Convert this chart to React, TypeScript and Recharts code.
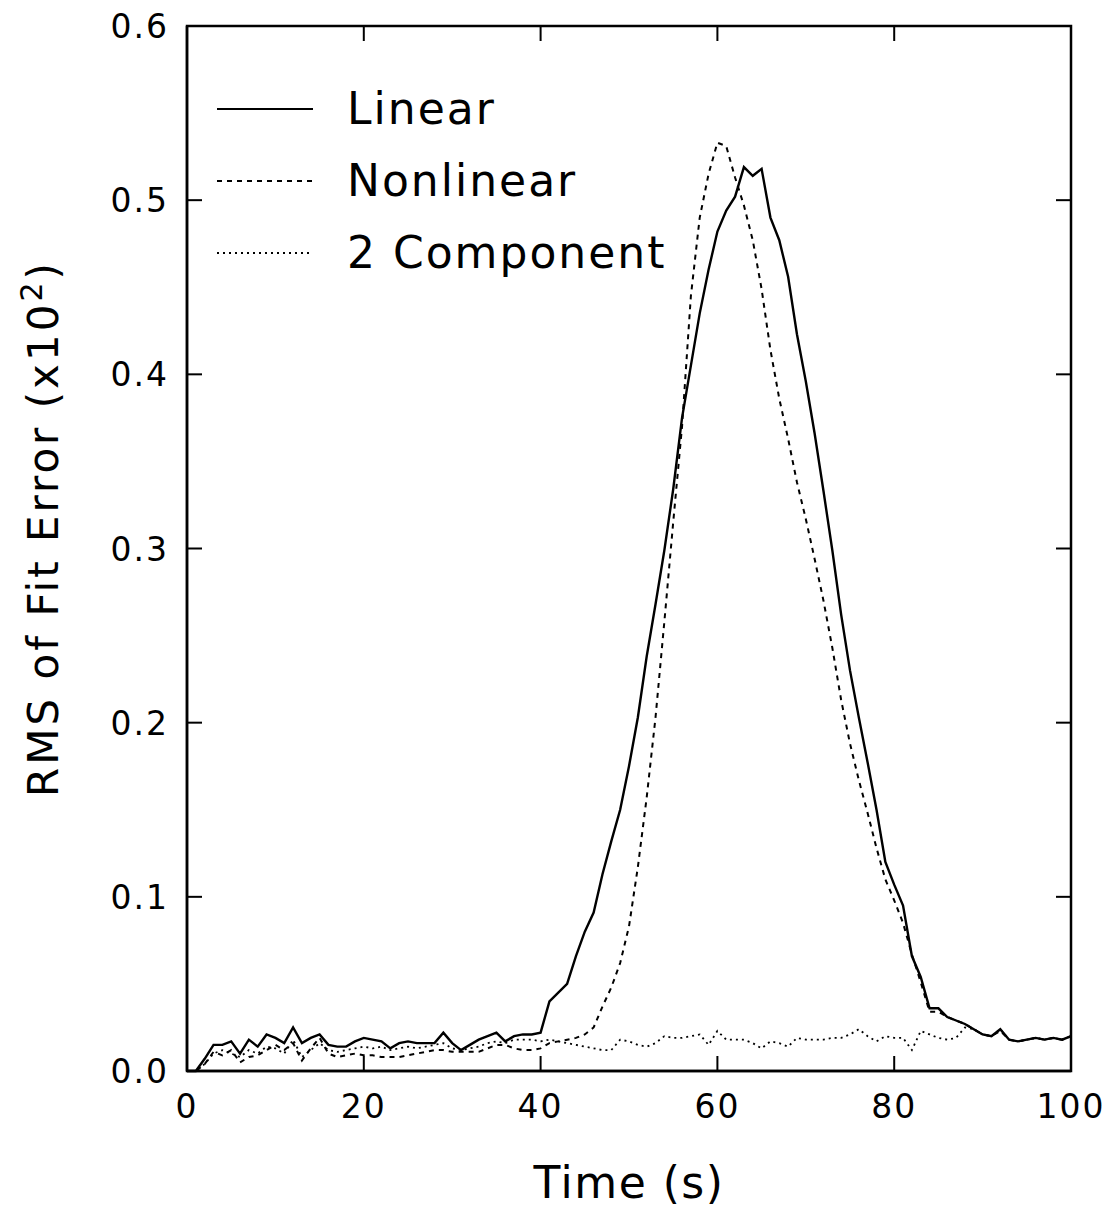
import React from "react";
import { LineChart, Line, XAxis, YAxis, Legend, ReferenceArea } from "recharts";

const time = [
  0, 1, 2, 3, 4, 5, 6, 7, 8, 9,
  10, 11, 12, 13, 14, 15, 16, 17, 18, 19,
  20, 21, 22, 23, 24, 25, 26, 27, 28, 29,
  30, 31, 32, 33, 34, 35, 36, 37, 38, 39,
  40, 41, 42, 43, 44, 45, 46, 47, 48, 49,
  50, 51, 52, 53, 54, 55, 56, 57, 58, 59,
  60, 61, 62, 63, 64, 65, 66, 67, 68, 69,
  70, 71, 72, 73, 74, 75, 76, 77, 78, 79,
  80, 81, 82, 83, 84, 85, 86, 87, 88, 89,
  90, 91, 92, 93, 94, 95, 96, 97, 98, 99,
  100,
];

const linearErr = [
  0, 0, 0.007, 0.015, 0.015, 0.017, 0.010, 0.018, 0.014, 0.021,
  0.019, 0.016, 0.025, 0.016, 0.019, 0.021, 0.015, 0.014, 0.014, 0.017,
  0.019, 0.018, 0.017, 0.013, 0.016, 0.017, 0.016, 0.016, 0.016, 0.022,
  0.016, 0.012, 0.015, 0.018, 0.020, 0.022, 0.017, 0.020, 0.021, 0.021,
  0.022, 0.040, 0.045, 0.050, 0.066, 0.080, 0.091, 0.113, 0.132, 0.150,
  0.175, 0.203, 0.238, 0.268, 0.299, 0.334, 0.375, 0.405, 0.435, 0.460,
  0.482, 0.494, 0.502, 0.519, 0.514, 0.518, 0.490, 0.477, 0.456, 0.423,
  0.396, 0.366, 0.333, 0.299, 0.262, 0.230, 0.203, 0.177, 0.150, 0.120,
  0.107, 0.095, 0.066, 0.054, 0.036, 0.036, 0.031, 0.029, 0.027, 0.024,
  0.021, 0.020, 0.024, 0.018, 0.017, 0.018, 0.019, 0.018, 0.019, 0.018,
  0.020,
];

const nonlinearErr = [
  0, 0, 0.004, 0.011, 0.009, 0.012, 0.005, 0.008, 0.009, 0.012,
  0.015, 0.012, 0.016, 0.006, 0.013, 0.019, 0.010, 0.008, 0.009, 0.010,
  0.009, 0.009, 0.008, 0.008, 0.008, 0.009, 0.010, 0.011, 0.012, 0.012,
  0.011, 0.011, 0.011, 0.011, 0.013, 0.015, 0.015, 0.013, 0.012, 0.012,
  0.013, 0.016, 0.017, 0.018, 0.019, 0.021, 0.025, 0.037, 0.048, 0.062,
  0.083, 0.117, 0.157, 0.203, 0.258, 0.315, 0.370, 0.445, 0.490, 0.515,
  0.533, 0.531, 0.513, 0.497, 0.477, 0.449, 0.414, 0.386, 0.363, 0.338,
  0.317, 0.294, 0.270, 0.243, 0.213, 0.188, 0.167, 0.148, 0.128, 0.110,
  0.098, 0.085, 0.067, 0.051, 0.034, 0.034, 0.031, 0.029, 0.027, 0.024,
  0.021, 0.020, 0.023, 0.018, 0.017, 0.018, 0.019, 0.018, 0.019, 0.018,
  0.020,
];

const twoCompErr = [
  0, 0, 0.004, 0.010, 0.012, 0.010, 0.008, 0.012, 0.010, 0.014,
  0.013, 0.010, 0.018, 0.008, 0.012, 0.016, 0.012, 0.011, 0.012, 0.013,
  0.014, 0.013, 0.014, 0.012, 0.013, 0.014, 0.013, 0.014, 0.015, 0.016,
  0.013, 0.012, 0.013, 0.014, 0.016, 0.017, 0.016, 0.018, 0.018, 0.018,
  0.017, 0.018, 0.017, 0.016, 0.015, 0.014, 0.013, 0.012, 0.012, 0.018,
  0.017, 0.015, 0.014, 0.016, 0.020, 0.019, 0.019, 0.020, 0.021, 0.015,
  0.023, 0.018, 0.018, 0.018, 0.016, 0.013, 0.017, 0.016, 0.014, 0.019,
  0.018, 0.018, 0.018, 0.019, 0.019, 0.021, 0.024, 0.020, 0.017, 0.020,
  0.019, 0.019, 0.012, 0.023, 0.021, 0.019, 0.018, 0.019, 0.025, 0.024,
  0.021, 0.020, 0.024, 0.018, 0.017, 0.018, 0.019, 0.018, 0.019, 0.018,
  0.020,
];

const xTicks = [0, 20, 40, 60, 80, 100];
const yTicks = [0, 0.1, 0.2, 0.3, 0.4, 0.5, 0.6];
const seriesNames = ["Linear", "Nonlinear", "2 Component"];

const data = time.map((t, i) => ({
  t,
  linear: linearErr[i],
  nonlinear: nonlinearErr[i],
  twoComp: twoCompErr[i],
}));

const FONT = "'DejaVu Sans', sans-serif";
const dashes = ["", "5 5", "2 4"];
const widths = [2.4, 2, 1.8];

const W = 1111;
const H = 1203;
const MARGIN = { top: 18, right: 48, left: 0, bottom: 0 };
const PLOT_TOP = MARGIN.top;
const PLOT_RIGHT = W - MARGIN.right;
const TICK = 15;

// inward ticks on both opposite sides, label outside
const XTick = (props: any) => {
  const { x, y, payload } = props;
  const edge = payload.value === 0 || payload.value === 100;
  return (
    <g>
      {!edge && <line x1={x} x2={x} y1={y} y2={y - TICK} stroke="#000" strokeWidth={2} />}
      {!edge && <line x1={x} x2={x} y1={PLOT_TOP} y2={PLOT_TOP + TICK} stroke="#000" strokeWidth={2} />}
      <text x={x} y={y + 47} textAnchor="middle" fontFamily={FONT} fontSize={33} letterSpacing={2} fill="#000">
        {payload.value}
      </text>
    </g>
  );
};

const YTick = (props: any) => {
  const { x, y, payload } = props;
  const edge = payload.value === 0 || payload.value === 0.6;
  return (
    <g>
      {!edge && <line x1={x} x2={x + TICK} y1={y} y2={y} stroke="#000" strokeWidth={2} />}
      {!edge && <line x1={PLOT_RIGHT} x2={PLOT_RIGHT - TICK} y1={y} y2={y} stroke="#000" strokeWidth={2} />}
      <text x={x - 18} y={y + 12} textAnchor="end" fontFamily={FONT} fontSize={33} letterSpacing={2} fill="#000">
        {payload.value.toFixed(1)}
      </text>
    </g>
  );
};

const LegendBox = () => (
  <div style={{ fontFamily: FONT, fontSize: 44, letterSpacing: 2, color: "#000" }}>
    {seriesNames.map((name, i) => (
      <div key={name} style={{ display: "flex", alignItems: "center", height: 72 }}>
        <svg width={96} height={72} style={{ marginRight: 34 }}>
          <line x1={0} x2={96} y1={36} y2={36} stroke="#000" strokeWidth={2} strokeDasharray={dashes[i]} />
        </svg>
        <span style={{ lineHeight: "72px" }}>{name}</span>
      </div>
    ))}
  </div>
);

const XTitle = (props: any) => {
  const { x, y, width } = props.viewBox;
  return (
    <text x={x + width / 2} y={y + 127} textAnchor="middle" fontFamily={FONT} fontSize={44} letterSpacing={1.5} fill="#000">
      Time (s)
    </text>
  );
};

const YTitle = (props: any) => {
  const { y, height } = props.viewBox;
  const cx = 50;
  const cy = y + height / 2 - 20;
  return (
    <text transform={`translate(${cx},${cy}) rotate(-90)`} textAnchor="middle" fontFamily={FONT} fontSize={42} letterSpacing={3} fill="#000">
      RMS of Fit Error (x10
      <tspan dy={-16} fontSize={30}>2</tspan>
      <tspan dy={16}>)</tspan>
    </text>
  );
};

export default function RmsFitErrorChart() {
  return (
    <div style={{ background: "#fff", width: W, height: H }}>
      <LineChart width={W} height={H} data={data} margin={MARGIN}>
        <XAxis
          dataKey="t"
          type="number"
          domain={[0, 100]}
          ticks={xTicks}
          height={140}
          tickSize={0}
          tickMargin={0}
          tick={XTick}
          tickLine={false}
          axisLine={{ stroke: "#000", strokeWidth: 2.5 }}
          label={{ content: XTitle }}
        />
        <YAxis
          type="number"
          domain={[0, 0.6]}
          ticks={yTicks}
          width={179}
          tickSize={0}
          tickMargin={0}
          tick={YTick}
          tickLine={false}
          axisLine={{ stroke: "#000", strokeWidth: 2.5 }}
          label={{ content: YTitle }}
        />
        <ReferenceArea x1={0} x2={100} y1={0} y2={0.6} fill="none" stroke="#000" strokeWidth={2.5} />
        <Legend
          layout="horizontal"
          verticalAlign="middle"
          align="center"
          content={LegendBox}
          wrapperStyle={{ left: 209, top: 65, width: "auto", height: "auto" }}
        />
        <Line type="linear" dataKey="linear" name={seriesNames[0]} stroke="#000" strokeWidth={widths[0]} dot={false} isAnimationActive={false} />
        <Line type="linear" dataKey="nonlinear" name={seriesNames[1]} stroke="#000" strokeWidth={widths[1]} strokeDasharray={dashes[1]} dot={false} isAnimationActive={false} />
        <Line type="linear" dataKey="twoComp" name={seriesNames[2]} stroke="#000" strokeWidth={widths[2]} strokeDasharray={dashes[2]} dot={false} isAnimationActive={false} />
      </LineChart>
    </div>
  );
}
